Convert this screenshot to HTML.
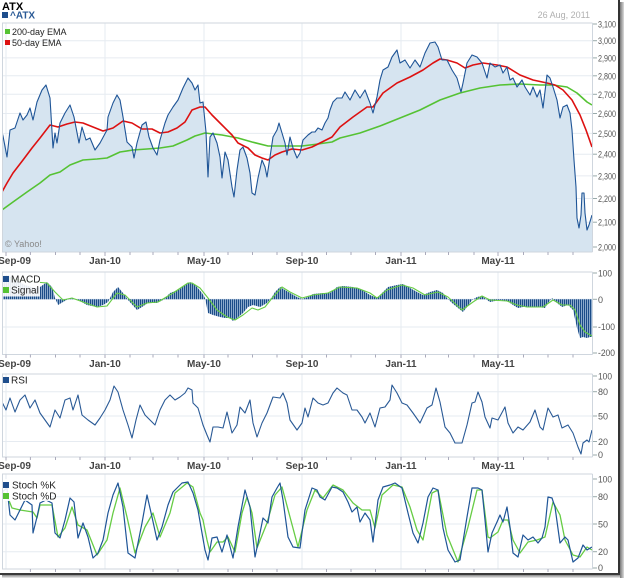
<!DOCTYPE html>
<html><head><meta charset="utf-8"><style>
html,body{margin:0;padding:0;background:#fff;}
svg{display:block;font-family:"Liberation Sans",Arial,sans-serif;}
</style></head><body>
<svg width="624" height="578" viewBox="0 0 624 578" xmlns="http://www.w3.org/2000/svg">
<defs>
<pattern id="st" width="2" height="10" patternUnits="userSpaceOnUse"><rect width="2" height="10" fill="#a7c0dc"/><rect width="1.2" height="10" fill="#1b4c88"/></pattern>
<linearGradient id="shr" x1="0" x2="1" y1="0" y2="0"><stop offset="0" stop-color="#777"/><stop offset="1" stop-color="#ddd"/></linearGradient>
<linearGradient id="shb" x1="0" x2="0" y1="0" y2="1"><stop offset="0" stop-color="#888"/><stop offset="1" stop-color="#eee"/></linearGradient>
<clipPath id="cm"><rect x="2" y="23" width="590.5" height="229"/></clipPath>
<clipPath id="cmacd"><rect x="2" y="272" width="590.5" height="82.5"/></clipPath>
<clipPath id="crsi"><rect x="2" y="374" width="590.5" height="83"/></clipPath>
<clipPath id="cst"><rect x="2" y="474" width="590.5" height="95"/></clipPath>
</defs>
<rect width="624" height="578" fill="#fff"/>

<!-- header -->
<text x="2" y="10" font-size="11" font-weight="bold" fill="#000">ATX</text>
<rect x="2" y="12" width="6" height="6" fill="#1f4e8c"/>
<text x="10" y="18.5" font-size="10" font-weight="bold" fill="#2a5a96">^ATX</text>
<text x="590" y="18" font-size="9" fill="#b0b0b0" text-anchor="end">26 Aug, 2011</text>

<!-- ================= MAIN PANEL ================= -->
<g stroke="#e6ebf1" stroke-width="1">
<line x1="2" x2="592" y1="40.7" y2="40.7"/><line x1="2" x2="592" y1="57.9" y2="57.9"/>
<line x1="2" x2="592" y1="75.8" y2="75.8"/><line x1="2" x2="592" y1="94.3" y2="94.3"/>
<line x1="2" x2="592" y1="113.5" y2="113.5"/><line x1="2" x2="592" y1="133.4" y2="133.4"/>
<line x1="2" x2="592" y1="154.2" y2="154.2"/><line x1="2" x2="592" y1="175.9" y2="175.9"/>
<line x1="2" x2="592" y1="198.5" y2="198.5"/><line x1="2" x2="592" y1="222.2" y2="222.2"/>
<line x1="2" x2="592" y1="247" y2="247"/>
<line x1="6" x2="6" y1="23" y2="252"/><line x1="105" x2="105" y1="23" y2="252"/>
<line x1="204" x2="204" y1="23" y2="252"/><line x1="302" x2="302" y1="23" y2="252"/>
<line x1="401" x2="401" y1="23" y2="252"/><line x1="498" x2="498" y1="23" y2="252"/>
</g>
<g clip-path="url(#cm)">
<path fill="#d6e4f0" d="M1,252 L1,128 L3,136 L7,157 L10,130 L15,128 L20,113 L23,120 L27,115 L30,108 L33,120 L37,102 L42,90 L46,85 L50,98 L53,148 L55,133 L57,143 L60,123 L65,113 L70,105 L74,117 L79,143 L82,127 L86,140 L90,138 L95,150 L100,143 L107,130 L108,117 L113,103 L117,95 L120,100 L123,117 L127,142 L132,147 L134,158 L137,143 L142,125 L146,122 L149,137 L153,148 L157,155 L160,140 L165,123 L168,115 L173,107 L178,100 L183,88 L188,78 L192,83 L195,90 L198,85 L200,103 L203,102 L206,132 L208,177 L210,137 L213,133 L217,143 L220,157 L222,178 L225,152 L228,160 L232,187 L234,197 L237,170 L240,150 L243,147 L247,158 L250,173 L252,193 L255,195 L258,178 L262,160 L265,167 L267,177 L270,157 L273,137 L277,130 L279,123 L282,133 L285,143 L287,155 L290,137 L293,148 L297,158 L300,153 L303,140 L308,135 L312,132 L315,132 L318,128 L322,130 L325,123 L328,118 L330,110 L333,102 L337,98 L342,98 L345,92 L350,100 L355,90 L360,98 L365,90 L370,103 L373,113 L377,97 L380,80 L383,70 L388,67 L392,57 L397,50 L400,63 L405,60 L410,68 L415,60 L420,67 L425,53 L430,43 L435,42 L438,47 L442,60 L447,60 L452,70 L457,78 L461,92 L463,83 L467,63 L472,55 L477,57 L482,63 L487,78 L490,63 L495,67 L500,65 L503,73 L507,67 L510,80 L513,78 L517,87 L522,80 L525,87 L530,95 L533,87 L537,97 L540,90 L543,108 L547,75 L550,78 L553,87 L557,100 L560,118 L563,107 L567,105 L570,113 L572,130 L574,160 L576,187 L577,218 L579,228 L581,215 L582,193 L584,193 L585,213 L587,230 L589,225 L592,215 L592,252 Z"/>
<polyline fill="none" stroke="#55c233" stroke-width="1.6" stroke-linejoin="round" points="2,210 13,202 27,192 40,183 50,175 60,172 70,165 83,160 97,159 107,158 120,152 133,150 147,149 160,148 173,146 187,140 195,136 205,133 222,135 238,138 252,142 268,146 285,146 302,146 318,144 332,142 340,138 360,133 380,126 400,118 420,110 440,100 460,93 480,88 500,85 520,84 540,85 553,85 567,87 577,93 587,102 592,105"/>
<polyline fill="none" stroke="#dd1111" stroke-width="1.6" stroke-linejoin="round" points="2,192 7,183 13,173 23,160 32,148 40,138 50,125 58,127 67,124 75,122 83,123 93,127 103,131 113,128 123,121 132,123 142,129 152,129 160,133 168,132 177,128 185,122 192,110 200,107 205,107 212,115 222,125 232,135 238,143 248,148 255,155 262,158 268,160 275,155 282,152 292,149 302,150 312,147 322,142 332,137 340,127 353,117 367,107 373,107 383,93 397,83 410,77 423,70 433,63 440,59 447,60 457,63 465,68 473,65 483,63 497,65 507,67 520,75 533,80 547,83 555,85 563,90 572,100 580,115 586,130 592,147"/>
<polyline fill="none" stroke="#1f5597" stroke-width="1.1" stroke-linejoin="round" points="1,128 3,136 7,157 10,130 15,128 20,113 23,120 27,115 30,108 33,120 37,102 42,90 46,85 50,98 53,148 55,133 57,143 60,123 65,113 70,105 74,117 79,143 82,127 86,140 90,138 95,150 100,143 107,130 108,117 113,103 117,95 120,100 123,117 127,142 132,147 134,158 137,143 142,125 146,122 149,137 153,148 157,155 160,140 165,123 168,115 173,107 178,100 183,88 188,78 192,83 195,90 198,85 200,103 203,102 206,132 208,177 210,137 213,133 217,143 220,157 222,178 225,152 228,160 232,187 234,197 237,170 240,150 243,147 247,158 250,173 252,193 255,195 258,178 262,160 265,167 267,177 270,157 273,137 277,130 279,123 282,133 285,143 287,155 290,137 293,148 297,158 300,153 303,140 308,135 312,132 315,132 318,128 322,130 325,123 328,118 330,110 333,102 337,98 342,98 345,92 350,100 355,90 360,98 365,90 370,103 373,113 377,97 380,80 383,70 388,67 392,57 397,50 400,63 405,60 410,68 415,60 420,67 425,53 430,43 435,42 438,47 442,60 447,60 452,70 457,78 461,92 463,83 467,63 472,55 477,57 482,63 487,78 490,63 495,67 500,65 503,73 507,67 510,80 513,78 517,87 522,80 525,87 530,95 533,87 537,97 540,90 543,108 547,75 550,78 553,87 557,100 560,118 563,107 567,105 570,113 572,130 574,160 576,187 577,218 579,228 581,215 582,193 584,193 585,213 587,230 589,225 592,215"/>
</g>
<g stroke="#cfd6de" stroke-width="1" fill="none">
<line x1="2" x2="592.5" y1="23" y2="23"/>
<line x1="2.5" x2="2.5" y1="23" y2="252"/>
<line x1="592.5" x2="592.5" y1="23" y2="252"/>
<line x1="2" x2="592.5" y1="252" y2="252"/>
</g>
<!-- main legend -->
<rect x="5" y="29" width="5" height="5" fill="#55c233"/>
<text x="12" y="35" font-size="9" fill="#222">200-day EMA</text>
<rect x="5" y="40" width="5" height="5" fill="#dd1111"/>
<text x="12" y="46" font-size="9" fill="#222">50-day EMA</text>
<text x="5" y="247" font-size="9" fill="#888">© Yahoo!</text>
<!-- main y axis -->
<g stroke="#9aa" stroke-width="1">
<line x1="593" x2="597" y1="24" y2="24"/><line x1="593" x2="597" y1="40.7" y2="40.7"/><line x1="593" x2="597" y1="57.9" y2="57.9"/><line x1="593" x2="597" y1="75.8" y2="75.8"/><line x1="593" x2="597" y1="94.3" y2="94.3"/><line x1="593" x2="597" y1="113.5" y2="113.5"/><line x1="593" x2="597" y1="133.4" y2="133.4"/><line x1="593" x2="597" y1="154.2" y2="154.2"/><line x1="593" x2="597" y1="175.9" y2="175.9"/><line x1="593" x2="597" y1="198.5" y2="198.5"/><line x1="593" x2="597" y1="222.2" y2="222.2"/><line x1="593" x2="597" y1="247" y2="247"/>
</g>
<g font-size="9" fill="#555">
<text x="598" y="27.5" textLength="18" lengthAdjust="spacingAndGlyphs">3,100</text><text x="598" y="44.2" textLength="18" lengthAdjust="spacingAndGlyphs">3,000</text><text x="598" y="61.4" textLength="18" lengthAdjust="spacingAndGlyphs">2,900</text><text x="598" y="79.3" textLength="18" lengthAdjust="spacingAndGlyphs">2,800</text><text x="598" y="97.8" textLength="18" lengthAdjust="spacingAndGlyphs">2,700</text><text x="598" y="117" textLength="18" lengthAdjust="spacingAndGlyphs">2,600</text><text x="598" y="136.9" textLength="18" lengthAdjust="spacingAndGlyphs">2,500</text><text x="598" y="157.7" textLength="18" lengthAdjust="spacingAndGlyphs">2,400</text><text x="598" y="179.4" textLength="18" lengthAdjust="spacingAndGlyphs">2,300</text><text x="598" y="202" textLength="18" lengthAdjust="spacingAndGlyphs">2,200</text><text x="598" y="225.7" textLength="18" lengthAdjust="spacingAndGlyphs">2,100</text><text x="598" y="250.5" textLength="18" lengthAdjust="spacingAndGlyphs">2,000</text>
</g>
<!-- main x ticks / labels -->
<g stroke="#aab" stroke-width="1">
<line x1="6" x2="6" y1="252" y2="256"/><line x1="30.4" x2="30.4" y1="252" y2="255"/><line x1="55.5" x2="55.5" y1="252" y2="255"/><line x1="80" x2="80" y1="252" y2="255"/><line x1="105" x2="105" y1="252" y2="256"/><line x1="130" x2="130" y1="252" y2="255"/><line x1="153" x2="153" y1="252" y2="255"/><line x1="178" x2="178" y1="252" y2="255"/><line x1="204" x2="204" y1="252" y2="256"/><line x1="228" x2="228" y1="252" y2="255"/><line x1="252.5" x2="252.5" y1="252" y2="255"/><line x1="277" x2="277" y1="252" y2="255"/><line x1="302" x2="302" y1="252" y2="256"/><line x1="326.5" x2="326.5" y1="252" y2="255"/><line x1="351" x2="351" y1="252" y2="255"/><line x1="375.5" x2="375.5" y1="252" y2="255"/><line x1="401" x2="401" y1="252" y2="256"/><line x1="425.5" x2="425.5" y1="252" y2="255"/><line x1="448.5" x2="448.5" y1="252" y2="255"/><line x1="474" x2="474" y1="252" y2="255"/><line x1="498" x2="498" y1="252" y2="256"/><line x1="523.5" x2="523.5" y1="252" y2="255"/><line x1="548" x2="548" y1="252" y2="255"/><line x1="573" x2="573" y1="252" y2="255"/>
</g>
<g font-size="10" font-weight="bold" fill="#444" text-anchor="middle">
<text x="14.5" y="264">Sep-09</text><text x="105" y="264">Jan-10</text><text x="204" y="264">May-10</text><text x="302" y="264">Sep-10</text><text x="401" y="264">Jan-11</text><text x="498" y="264">May-11</text>
</g>

<!-- ================= MACD PANEL ================= -->
<g stroke="#e6ebf1" stroke-width="1">
<line x1="2" x2="592" y1="299.3" y2="299.3"/><line x1="2" x2="592" y1="327" y2="327"/>
<line x1="6" x2="6" y1="272" y2="354.5"/><line x1="105" x2="105" y1="272" y2="354.5"/>
<line x1="204" x2="204" y1="272" y2="354.5"/><line x1="302" x2="302" y1="272" y2="354.5"/>
<line x1="401" x2="401" y1="272" y2="354.5"/><line x1="498" x2="498" y1="272" y2="354.5"/>
</g>
<g clip-path="url(#cmacd)">
<path fill="url(#st)" d="M2,299.3 L2,276 L8,275 L15,280 L25,285 L35,288 L40,287 L47,282 L52,287 L55,298 L58,305 L63,302 L70,298 L78,300 L87,305 L97,307 L103,305 L108,302 L113,292 L118,287 L123,293 L128,300 L137,310 L142,307 L148,303 L157,303 L163,300 L170,293 L178,290 L185,285 L190,282 L192,283 L197,287 L202,293 L205,298 L208,313 L213,315 L220,317 L225,318 L230,318 L233,321 L237,318 L243,313 L248,307 L253,305 L260,307 L267,303 L272,297 L275,292 L280,287 L285,290 L290,293 L297,297 L302,299 L308,297 L313,294 L323,293 L330,293 L337,287 L343,286 L353,287 L362,290 L370,295 L377,298 L382,293 L388,287 L397,285 L403,284 L410,288 L417,292 L423,295 L430,292 L437,290 L443,293 L447,298 L452,303 L458,308 L463,312 L467,307 L472,300 L477,297 L482,296 L487,300 L490,302 L500,300 L507,301 L513,305 L518,308 L523,307 L530,307 L538,307 L545,308 L548,303 L552,298 L557,303 L562,307 L568,305 L573,310 L577,328 L580,338 L583,337 L587,338 L590,337 L592,337 L592,299.3 Z"/>
<polyline fill="none" stroke="#66cc44" stroke-width="1.1" stroke-linejoin="round" points="2,278 20,280 35,282 47,283 55,292 63,300 72,298 83,302 97,307 107,306 117,293 125,295 137,307 147,303 158,302 173,293 188,283 192,283 200,288 208,298 217,310 227,317 235,320 243,315 252,308 258,310 265,307 273,297 282,287 290,292 302,298 313,295 328,293 340,287 357,288 370,293 377,298 387,290 402,285 413,288 425,295 438,292 448,297 462,310 473,302 482,296 490,300 507,301 517,305 527,307 543,307 553,300 562,305 570,305 575,310 580,325 585,332 592,336"/>
</g>
<rect x="3" y="272.5" width="37" height="24" fill="#fff" fill-opacity="0.9"/>
<rect x="3" y="276" width="6" height="6" fill="#1f4e8c"/>
<text x="11" y="282.5" font-size="10" fill="#222">MACD</text>
<rect x="3" y="287" width="6" height="6" fill="#55c233"/>
<text x="11" y="293.5" font-size="10" fill="#222">Signal</text>
<g stroke="#cfd6de" stroke-width="1" fill="none">
<line x1="2" x2="592.5" y1="272" y2="272"/>
<line x1="2.5" x2="2.5" y1="272" y2="354.5"/>
<line x1="592.5" x2="592.5" y1="272" y2="354.5"/>
<line x1="2" x2="592.5" y1="354.5" y2="354.5"/>
</g>
<g stroke="#9aa" stroke-width="1">
<line x1="593" x2="597" y1="273" y2="273"/><line x1="593" x2="597" y1="299.3" y2="299.3"/><line x1="593" x2="597" y1="327" y2="327"/><line x1="593" x2="597" y1="353" y2="353"/>
</g>
<g font-size="9" fill="#555">
<text x="598" y="276.5" textLength="14" lengthAdjust="spacingAndGlyphs">100</text><text x="598" y="302.8">0</text><text x="598" y="330" textLength="17" lengthAdjust="spacingAndGlyphs">-100</text><text x="598" y="356" textLength="17" lengthAdjust="spacingAndGlyphs">-200</text>
</g>
<g stroke="#aab" stroke-width="1">
<line x1="6" x2="6" y1="354.5" y2="358"/><line x1="30.4" x2="30.4" y1="354.5" y2="357.5"/><line x1="55.5" x2="55.5" y1="354.5" y2="357.5"/><line x1="80" x2="80" y1="354.5" y2="357.5"/><line x1="105" x2="105" y1="354.5" y2="358"/><line x1="130" x2="130" y1="354.5" y2="357.5"/><line x1="153" x2="153" y1="354.5" y2="357.5"/><line x1="178" x2="178" y1="354.5" y2="357.5"/><line x1="204" x2="204" y1="354.5" y2="358"/><line x1="228" x2="228" y1="354.5" y2="357.5"/><line x1="252.5" x2="252.5" y1="354.5" y2="357.5"/><line x1="277" x2="277" y1="354.5" y2="357.5"/><line x1="302" x2="302" y1="354.5" y2="358"/><line x1="326.5" x2="326.5" y1="354.5" y2="357.5"/><line x1="351" x2="351" y1="354.5" y2="357.5"/><line x1="375.5" x2="375.5" y1="354.5" y2="357.5"/><line x1="401" x2="401" y1="354.5" y2="358"/><line x1="425.5" x2="425.5" y1="354.5" y2="357.5"/><line x1="448.5" x2="448.5" y1="354.5" y2="357.5"/><line x1="474" x2="474" y1="354.5" y2="357.5"/><line x1="498" x2="498" y1="354.5" y2="358"/><line x1="523.5" x2="523.5" y1="354.5" y2="357.5"/><line x1="548" x2="548" y1="354.5" y2="357.5"/><line x1="573" x2="573" y1="354.5" y2="357.5"/>
</g>
<g font-size="10" font-weight="bold" fill="#444" text-anchor="middle">
<text x="14.5" y="367">Sep-09</text><text x="105" y="367">Jan-10</text><text x="204" y="367">May-10</text><text x="302" y="367">Sep-10</text><text x="401" y="367">Jan-11</text><text x="498" y="367">May-11</text>
</g>

<!-- ================= RSI PANEL ================= -->
<g stroke="#e6ebf1" stroke-width="1">
<line x1="2" x2="592" y1="391.7" y2="391.7"/><line x1="2" x2="592" y1="416" y2="416"/><line x1="2" x2="592" y1="441.5" y2="441.5"/>
<line x1="6" x2="6" y1="374" y2="457"/><line x1="105" x2="105" y1="374" y2="457"/>
<line x1="204" x2="204" y1="374" y2="457"/><line x1="302" x2="302" y1="374" y2="457"/>
<line x1="401" x2="401" y1="374" y2="457"/><line x1="498" x2="498" y1="374" y2="457"/>
</g>
<g clip-path="url(#crsi)">
<polyline fill="none" stroke="#2a5a96" stroke-width="1.1" stroke-linejoin="round" points="2,402 6,410 10,398 15,412 20,400 25,395 30,408 35,400 40,413 45,420 50,427 55,410 60,418 65,400 70,398 73,410 78,395 82,415 88,420 95,425 100,418 105,410 110,400 114,386 118,392 123,410 128,425 132,438 136,420 140,405 145,415 150,420 155,425 160,410 165,400 170,395 175,400 180,397 185,393 188,388 192,390 193,403 198,408 203,425 207,435 210,442 213,427 218,427 223,428 227,412 232,433 237,425 240,407 245,413 250,400 253,423 257,437 262,423 267,413 273,397 280,398 283,393 287,403 290,420 297,430 302,423 305,408 308,417 313,398 318,403 323,405 328,403 333,393 337,388 343,393 347,395 352,410 357,410 362,417 365,423 370,413 375,427 380,408 385,407 390,400 392,385 397,393 402,403 407,405 413,413 420,423 427,408 432,405 436,388 440,402 445,427 450,433 455,443 462,443 467,425 472,403 475,402 478,392 482,402 485,417 490,428 492,418 498,420 505,407 508,423 513,433 518,427 523,430 530,422 535,410 540,427 543,430 548,408 553,417 558,415 562,428 568,425 573,433 578,447 581,454 583,443 587,440 589,442 592,430"/>
</g>
<rect x="3" y="377" width="6" height="6" fill="#1f4e8c"/>
<text x="11" y="383.5" font-size="10" fill="#222">RSI</text>
<g stroke="#cfd6de" stroke-width="1" fill="none">
<line x1="2" x2="592.5" y1="374" y2="374"/>
<line x1="2.5" x2="2.5" y1="374" y2="457"/>
<line x1="592.5" x2="592.5" y1="374" y2="457"/>
<line x1="2" x2="592.5" y1="457" y2="457"/>
</g>
<g stroke="#9aa" stroke-width="1">
<line x1="593" x2="597" y1="376" y2="376"/><line x1="593" x2="597" y1="391.7" y2="391.7"/><line x1="593" x2="597" y1="416" y2="416"/><line x1="593" x2="597" y1="441.5" y2="441.5"/><line x1="593" x2="597" y1="455" y2="455"/>
</g>
<g font-size="9" fill="#555">
<text x="598" y="379.5" textLength="14" lengthAdjust="spacingAndGlyphs">100</text><text x="598" y="395">80</text><text x="598" y="419.5">50</text><text x="598" y="445">20</text><text x="598" y="458">0</text>
</g>
<g stroke="#aab" stroke-width="1">
<line x1="6" x2="6" y1="457" y2="460.5"/><line x1="30.4" x2="30.4" y1="457" y2="460"/><line x1="55.5" x2="55.5" y1="457" y2="460"/><line x1="80" x2="80" y1="457" y2="460"/><line x1="105" x2="105" y1="457" y2="460.5"/><line x1="130" x2="130" y1="457" y2="460"/><line x1="153" x2="153" y1="457" y2="460"/><line x1="178" x2="178" y1="457" y2="460"/><line x1="204" x2="204" y1="457" y2="460.5"/><line x1="228" x2="228" y1="457" y2="460"/><line x1="252.5" x2="252.5" y1="457" y2="460"/><line x1="277" x2="277" y1="457" y2="460"/><line x1="302" x2="302" y1="457" y2="460.5"/><line x1="326.5" x2="326.5" y1="457" y2="460"/><line x1="351" x2="351" y1="457" y2="460"/><line x1="375.5" x2="375.5" y1="457" y2="460"/><line x1="401" x2="401" y1="457" y2="460.5"/><line x1="425.5" x2="425.5" y1="457" y2="460"/><line x1="448.5" x2="448.5" y1="457" y2="460"/><line x1="474" x2="474" y1="457" y2="460"/><line x1="498" x2="498" y1="457" y2="460.5"/><line x1="523.5" x2="523.5" y1="457" y2="460"/><line x1="548" x2="548" y1="457" y2="460"/><line x1="573" x2="573" y1="457" y2="460"/>
</g>
<g font-size="10" font-weight="bold" fill="#444" text-anchor="middle">
<text x="14.5" y="469">Sep-09</text><text x="105" y="469">Jan-10</text><text x="204" y="469">May-10</text><text x="302" y="469">Sep-10</text><text x="401" y="469">Jan-11</text><text x="498" y="469">May-11</text>
</g>

<!-- ================= STOCH PANEL ================= -->
<g stroke="#e6ebf1" stroke-width="1">
<line x1="2" x2="592" y1="496.7" y2="496.7"/><line x1="2" x2="592" y1="524" y2="524"/><line x1="2" x2="592" y1="551.7" y2="551.7"/>
<line x1="6" x2="6" y1="474" y2="569"/><line x1="105" x2="105" y1="474" y2="569"/>
<line x1="204" x2="204" y1="474" y2="569"/><line x1="302" x2="302" y1="474" y2="569"/>
<line x1="401" x2="401" y1="474" y2="569"/><line x1="498" x2="498" y1="474" y2="569"/>
</g>
<g clip-path="url(#cst)">
<polyline fill="none" stroke="#66cc44" stroke-width="1.3" stroke-linejoin="round" points="2,490 8,498 12,508 20,510 33,512 37,518 40,505 52,505 58,537 65,528 72,507 78,525 87,530 97,555 107,540 113,513 120,488 127,517 135,553 145,527 153,513 160,537 170,513 175,493 187,483 193,487 200,513 203,520 207,540 210,552 217,542 223,542 228,537 235,552 242,513 247,497 252,513 257,548 267,523 275,495 282,487 290,517 298,547 307,510 315,490 323,498 333,485 343,490 353,503 362,510 370,510 375,528 382,495 393,485 402,487 410,507 417,530 423,540 432,493 438,490 447,535 458,562 468,527 477,490 482,490 488,537 490,538 498,532 503,520 508,520 513,540 520,553 528,542 537,540 545,537 553,502 560,515 565,540 573,555 580,557 587,547 592,550"/>
<polyline fill="none" stroke="#1f5597" stroke-width="1.2" stroke-linejoin="round" points="2,492 7,488 10,515 15,520 20,510 25,500 32,505 33,533 37,517 40,503 46,500 52,503 55,533 60,538 65,520 70,498 74,502 78,538 83,523 88,537 93,558 98,553 103,540 108,513 113,495 118,483 123,507 128,553 135,558 142,523 147,495 152,517 157,540 162,527 168,505 173,492 182,483 188,482 193,493 198,510 202,533 205,550 208,560 212,538 217,537 222,552 227,535 233,558 238,527 245,490 250,507 255,557 258,543 263,518 268,523 272,497 277,488 280,483 283,500 288,537 293,547 300,548 305,510 312,488 317,490 320,497 325,500 332,487 337,488 343,492 348,502 352,512 357,507 360,522 365,513 370,520 373,542 378,500 383,487 390,485 395,483 402,488 408,513 413,533 418,543 423,523 428,497 433,488 438,490 443,528 448,550 455,562 460,560 467,517 472,488 478,488 482,490 485,520 488,552 492,533 497,522 500,515 503,522 507,507 510,527 513,553 518,557 523,535 528,540 533,537 538,543 542,538 545,527 548,497 552,498 555,507 560,543 565,537 568,540 573,562 578,558 583,545 587,550 592,547"/>
</g>
<rect x="3" y="479" width="47" height="22" fill="#fff" fill-opacity="0.9"/>
<rect x="3" y="482" width="6" height="6" fill="#1f4e8c"/>
<text x="12" y="488.5" font-size="10" fill="#222">Stoch %K</text>
<rect x="3" y="493" width="6" height="6" fill="#55c233"/>
<text x="12" y="499.5" font-size="10" fill="#222">Stoch %D</text>
<g stroke="#cfd6de" stroke-width="1" fill="none">
<line x1="2" x2="592.5" y1="474" y2="474"/>
<line x1="2.5" x2="2.5" y1="474" y2="569"/>
<line x1="592.5" x2="592.5" y1="474" y2="569"/>
<line x1="2" x2="592.5" y1="569" y2="569"/>
</g>
<g stroke="#9aa" stroke-width="1">
<line x1="593" x2="597" y1="479" y2="479"/><line x1="593" x2="597" y1="496.7" y2="496.7"/><line x1="593" x2="597" y1="524" y2="524"/><line x1="593" x2="597" y1="551.7" y2="551.7"/><line x1="593" x2="597" y1="568" y2="568"/>
</g>
<g font-size="9" fill="#555">
<text x="598" y="482.5" textLength="14" lengthAdjust="spacingAndGlyphs">100</text><text x="598" y="500">80</text><text x="598" y="527.5">50</text><text x="598" y="555">20</text><text x="598" y="571">0</text>
</g>
<g stroke="#aab" stroke-width="1">
<line x1="30.4" x2="30.4" y1="569" y2="572"/><line x1="55.5" x2="55.5" y1="569" y2="572"/><line x1="80" x2="80" y1="569" y2="572"/><line x1="130" x2="130" y1="569" y2="572"/><line x1="153" x2="153" y1="569" y2="572"/><line x1="178" x2="178" y1="569" y2="572"/><line x1="228" x2="228" y1="569" y2="572"/><line x1="252.5" x2="252.5" y1="569" y2="572"/><line x1="277" x2="277" y1="569" y2="572"/><line x1="326.5" x2="326.5" y1="569" y2="572"/><line x1="351" x2="351" y1="569" y2="572"/><line x1="375.5" x2="375.5" y1="569" y2="572"/><line x1="425.5" x2="425.5" y1="569" y2="572"/><line x1="448.5" x2="448.5" y1="569" y2="572"/><line x1="474" x2="474" y1="569" y2="572"/><line x1="523.5" x2="523.5" y1="569" y2="572"/><line x1="548" x2="548" y1="569" y2="572"/><line x1="573" x2="573" y1="569" y2="572"/>
</g>

<!-- frame shadow -->
<rect x="618" y="0" width="2" height="575" fill="#333"/>
<rect x="620" y="2" width="4" height="576" fill="url(#shr)"/>
<rect x="0" y="573" width="620" height="2" fill="#3a3a3a"/>
<rect x="2" y="575" width="618" height="3" fill="url(#shb)"/>
</svg>
</body></html>
